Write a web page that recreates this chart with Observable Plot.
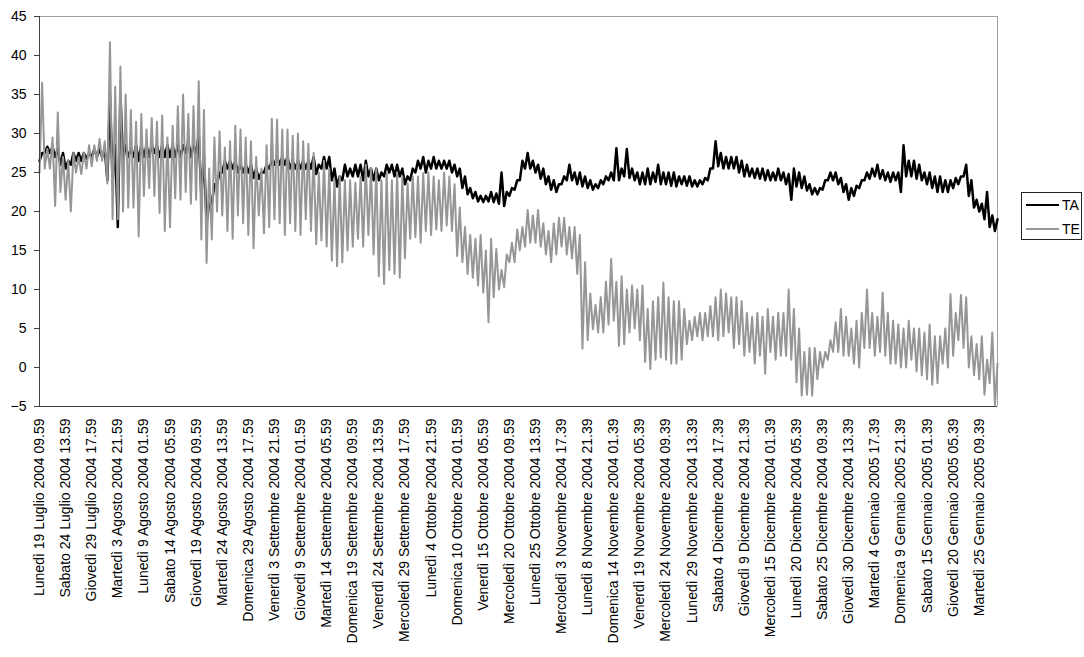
<!DOCTYPE html>
<html>
<head>
<meta charset="utf-8">
<script src="https://cdn.jsdelivr.net/npm/d3@7"></script>
<script src="https://cdn.jsdelivr.net/npm/@observablehq/plot@0.6"></script>
<style>
  html, body { margin: 0; padding: 0; background: #fff; }
  #wrap { position: relative; width: 1084px; height: 657px; font-family: "Liberation Sans", Arial, sans-serif; }
  #legend { position: absolute; left: 1021px; top: 192px; width: 59px; height: 46px; border: 1px solid #222; background: #fff; font-size: 14px; }
  #legend .row { position: absolute; left: 4px; height: 16px; display: flex; align-items: center; }
  #legend .sw { width: 33px; height: 0; border-top-width: 2px; border-top-style: solid; margin-right: 3px; }
</style>
</head>
<body>
<div id="wrap"></div>
<script>
// Tick labels (one every 5 days of hourly data, category axis)
const xLabels = [
  "Lunedì 19 Luglio 2004 09.59", "Sabato 24 Luglio 2004 13.59", "Giovedì 29 Luglio 2004 17.59",
  "Martedì 3 Agosto 2004 21.59", "Lunedì 9 Agosto 2004 01.59", "Sabato 14 Agosto 2004 05.59",
  "Giovedì 19 Agosto 2004 09.59", "Martedì 24 Agosto 2004 13.59", "Domenica 29 Agosto 2004 17.59",
  "Venerdì 3 Settembre 2004 21.59", "Giovedì 9 Settembre 2004 01.59", "Martedì 14 Settembre 2004 05.59",
  "Domenica 19 Settembre 2004 09.59", "Venerdì 24 Settembre 2004 13.59", "Mercoledì 29 Settembre 2004 17.59",
  "Lunedì 4 Ottobre 2004 21.59", "Domenica 10 Ottobre 2004 01.59", "Venerdì 15 Ottobre 2004 05.59",
  "Mercoledì 20 Ottobre 2004 09.59", "Lunedì 25 Ottobre 2004 13.59", "Mercoledì 3 Novembre 2004 17.39",
  "Lunedì 8 Novembre 2004 21.39", "Domenica 14 Novembre 2004 01.39", "Venerdì 19 Novembre 2004 05.39",
  "Mercoledì 24 Novembre 2004 09.39", "Lunedì 29 Novembre 2004 13.39", "Sabato 4 Dicembre 2004 17.39",
  "Giovedì 9 Dicembre 2004 21.39", "Mercoledì 15 Dicembre 2004 01.39", "Lunedì 20 Dicembre 2004 05.39",
  "Sabato 25 Dicembre 2004 09.39", "Giovedì 30 Dicembre 2004 13.39", "Martedì 4 Gennaio 2005 17.39",
  "Domenica 9 Gennaio 2005 21.39", "Sabato 15 Gennaio 2005 01.39", "Giovedì 20 Gennaio 2005 05.39",
  "Martedì 25 Gennaio 2005 09.39"
];
const daysPerLabel = 5;
const yTicks = [-5, 0, 5, 10, 15, 20, 25, 30, 35, 40, 45];

// TE: daily maximum and minimum (°C), one value per day
const teMax = [
  36.5,28,29.5,32.7,27,  26.5,27.5,27,27.5,28.5,  28.5,29.3,29,41.7,36,  38.6,35,33,31.5,32.5,
  30.5,32,31.5,32.3,29.5,  31,33.5,35,32.5,33.5,  36.7,33,25.5,29.5,30.3,  28.2,29,31,30.5,29.5,
  29,27,25.5,28.5,31.9,  31.8,30.5,30.5,29.7,30,  29,28.7,27.5,25,26.5,  25.5,24,24.5,24,24,
  23.7,24.5,26,25.5,25.5,  24,25,24,25,24.5,  23.6,24.5,24.5,24.9,25,  24.5,24,25,24.5,23.5,
  20.5,18,17,16.5,17,  15,16.5,15.2,12.5,14.5,  16,17.7,18,20.2,19.5,  20.2,18.5,17.5,18.5,19.2,
  19.2,18,18,17,13.5,  9.5,8,9,11,13.9,  11,11.7,10,10.5,10,  10.5,7.5,8.5,9,10.9,
  9,8.5,8.5,7.5,6,  6.5,7,7,7.9,9,  10,9.5,9,9,8.5,  7,6.5,7,6.5,7.5,
  6.5,7,7,10,7.5,  5,2,2.5,2.5,2,  2,3.5,5.8,7.5,6.5,  5,6,7,10,7,
  6.5,9.6,7,6,5.5,  5,6,5,5,4.5,  5.5,4,4,5,9.4,  7,9.3,9,4,3,
  4,1,4.5,0.5
];
const teMin = [
  25,25.5,25.5,20.7,22.5,  21.5,20,25,24.8,25.5,  25.8,26.5,26.5,23.6,19,  19,20,20.5,20.5,16.8,
  22,23,22,19.8,17.5,  18,21.7,21.5,22.5,21,  21.5,16.4,13.4,16.4,20,  19.5,17.5,16.5,19.5,18.5,
  17,15.3,19.5,17.2,18,  19,18.5,17,18.5,17.5,  17,19,17.5,15.8,16.3,  15.5,13.7,13,13.5,15,
  15.5,16.5,15.5,17,14.5,  11.7,10.7,12.5,12,11.5,  14,16.5,16.7,16,17.5,  17,17.7,17.5,18.2,17.5,
  14.3,13.5,12,11.5,10.5,  9.6,5.8,9,10,10.3,  13.5,13.5,15,15.5,16,  16,15.5,14.5,13.5,14.5,
  15.5,14.5,14,12,2.4,  3.5,4.9,4.5,4.5,5.5,  6,2.8,3,4.5,5,  3.5,0.7,-0.2,1,1.3,
  1,0.5,0.5,1,3,  3.5,4,3.5,4,4,  3.5,4,4.5,2.5,3,  1.5,2,0.5,1.5,-0.8,
  2,1,1.5,1.5,1,  -1.9,-3.6,-3.5,-3.6,-1.5,  0,1,2,2,1.5,  1.5,0.5,0,2.5,2.5,
  1.5,2,1.5,0.5,0.5,  0,0,1,-0.5,-1,  -1.5,-2.2,-2,0.5,0,  1.5,3.5,2.5,0,-1,
  -1.5,-3.5,-2,-4.8
];

// TA: daily high and low (°C), one value per day
const taHi = [
  27.5,28.3,28.3,28,27.5,  26.5,27.5,27.5,27.5,27.5,  28,28,28,35,28.5,  35,28.5,28,28.5,28.5,
  28.5,28.5,28.5,28.5,28.5,  28.5,28.5,28.5,29,28.5,  29.8,27,21,23.5,25,  26.5,26.5,26.5,26,26,
  26,25.5,25,26,26.5,  27,27,27,26.5,26.5,  26.5,26.5,27,26,27,  27,25.5,24.5,26,25.5,
  26,26,26.5,25.5,25.5,  25,26,26,26,25.5,  24.5,25.5,26.5,27,26.5,  27,26.5,26.5,26.5,26,
  25.5,24.5,23,22.5,22,  22,22.5,22.3,25,22.5,  23,24,26.5,27.5,26.5,  26,25.5,24.5,24,23.5,
  24.5,26,25,25,24.5,  24,23.5,24,24.5,25,  28.1,25.5,28,25.5,25,  25,25.5,25,26,25,
  25,25,24.5,24.5,24.5,  24,24,24.3,25.5,29,  27.5,27,27,27,26.5,  26,25.5,25.5,25.5,25.3,
  25,25.5,25,24.8,25.5,  25,24.5,23.5,23,23,  24,25,25,24.3,23.5,  23,23.3,24,25,25.5,
  26,25.3,25,25,25,  28.5,26.5,26.5,26,25,  25,24.5,24.5,24,24,  24.3,24.5,26,24,21.5,
  21,22.5,19.5,19
];
const taLo = [
  26.5,27.5,27.5,27,26,  25.5,26,26.5,26.5,26.8,  27,27,27,24,23.8,  18,26.5,27,27,26.5,
  27,27,27.5,27,27,  27,27,27,27.5,27,  27.5,22,18.5,21,23.5,  25,25.5,25.5,25,25,
  25,24.3,24.2,25,25.5,  26,26,26,25.5,25.5,  25.5,25.5,25.5,24.8,25.5,  25.5,24,23.2,24,24.5,
  24.5,24.5,24,24.5,24,  24,24.5,25,24.5,24.5,  23.5,24,25,25.5,25,  25.5,25.5,25.5,25.5,25,
  24.5,23,22.2,21.7,21.3,  21.2,21.3,21.2,21,20.7,  22,22.8,24,25.5,25.5,  25,24.2,23.5,22.8,22.5,
  23.5,24,24,23.5,23.2,  23,22.8,23,23.5,24,  24,24,24.5,24.3,24,  23.5,23.5,23.5,23.8,23.5,
  23.5,23.3,23.2,23.5,23.3,  23.2,23.2,23.5,24,25.5,  25.8,25.5,25.5,25.5,25,  24.5,24.5,24.3,24.2,24,
  24,24,24,23.5,21.5,  23.2,23,22.7,22.2,22.2,  22.8,24,24,23.5,22.5,  21.5,22,23,24,24.2,
  24.5,24.2,24,23.8,24,  22.5,24.5,24.5,24.2,24,  23.5,23,22.5,22.5,22.5,  23,23.5,24.5,22,20.5,
  20,19,18,17.5
];

// Build long tables: min (or low) at start of each day, max (or high) half a day later
const teData = [], taData = [];
teMin.forEach((v, i) => {
  teData.push({day: i, v});
  teData.push({day: i + 0.5, v: teMax[i]});
});
taLo.forEach((v, i) => {
  taData.push({day: i, v});
  taData.push({day: i + 0.5, v: taHi[i]});
});

const labelDays = xLabels.map((_, i) => i * daysPerLabel);
const lastDay = teMin.length - 0.5;

const font = "Liberation Sans, Arial, sans-serif";
const chart = Plot.plot({
  width: 1084,
  height: 657,
  marginLeft: 39,
  marginRight: 87,
  marginTop: 16,
  marginBottom: 251,
  style: {fontFamily: font, fontSize: "14px", color: "#000", background: "#fff"},
  x: {domain: [0, lastDay]},
  y: {domain: [-5, 45]},
  marks: [
    Plot.ruleY([45], {stroke: "#a0a0a0", strokeWidth: 1}),
    Plot.ruleX([lastDay], {stroke: "#a0a0a0", strokeWidth: 1}),
    Plot.line(taData, {x: "day", y: "v", stroke: "#000", strokeWidth: 2.5}),
    Plot.line(teData, {x: "day", y: "v", stroke: "#969696", strokeWidth: 2}),
    Plot.ruleX([0], {stroke: "#404040", strokeWidth: 1}),
    Plot.ruleY([-5], {stroke: "#404040", strokeWidth: 1}),
    Plot.axisY({ticks: yTicks, tickSize: 5, tickPadding: 8, fontSize: 14, stroke: "#404040", label: null}),
    Plot.axisX({
      ticks: labelDays,
      tickFormat: d => xLabels[Math.round(d / daysPerLabel)],
      tickRotate: -90,
      tickSize: 0,
      tickPadding: 12,
      fontSize: 14,
      label: null
    })
  ]
});

const wrap = document.getElementById("wrap");
wrap.appendChild(chart);

const legend = document.createElement("div");
legend.id = "legend";
const series = [{name: "TA", color: "#000"}, {name: "TE", color: "#969696"}];
series.forEach((s, i) => {
  const row = document.createElement("div");
  row.className = "row";
  row.style.top = (4 + i * 24) + "px";
  const sw = document.createElement("div");
  sw.className = "sw";
  sw.style.borderTopColor = s.color;
  const t = document.createElement("span");
  t.textContent = s.name;
  row.appendChild(sw);
  row.appendChild(t);
  legend.appendChild(row);
});
wrap.appendChild(legend);
</script>
</body>
</html>
